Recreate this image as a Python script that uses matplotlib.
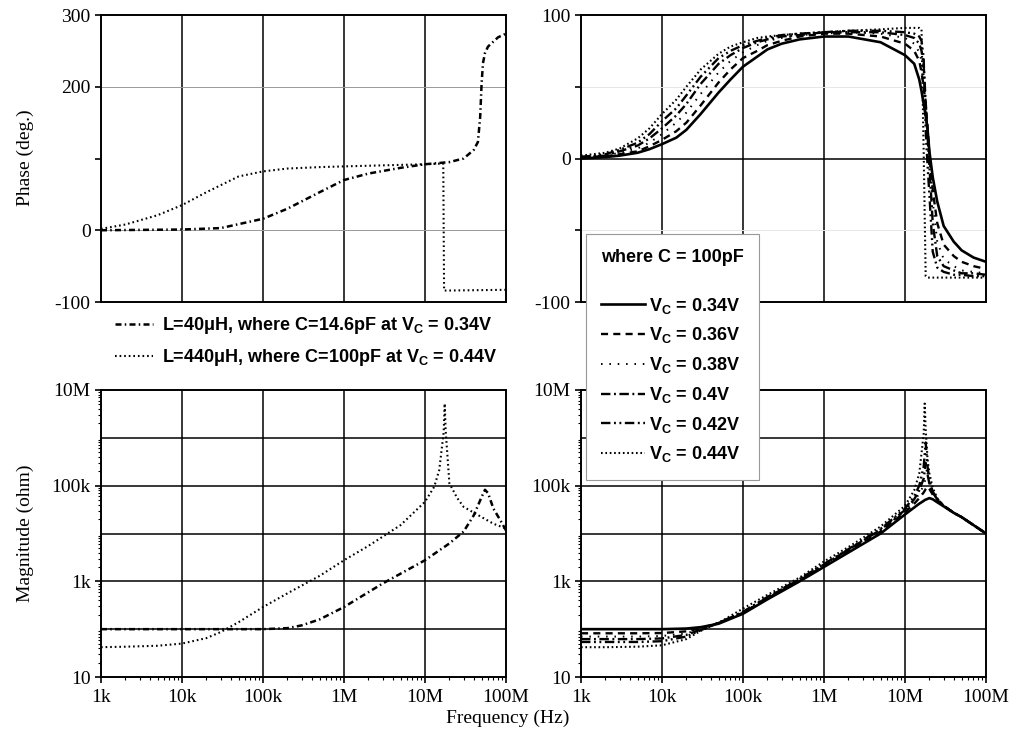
import numpy as np
import matplotlib
matplotlib.use("Agg")
import matplotlib.pyplot as plt
from matplotlib.ticker import LogLocator, NullFormatter

plt.rcParams['font.family'] = ['Liberation Serif', 'DejaVu Serif']
plt.rcParams['mathtext.fontset'] = 'custom'
plt.rcParams['mathtext.rm'] = 'Liberation Sans:bold'
plt.rcParams['mathtext.bf'] = 'Liberation Sans:bold'
plt.rcParams['mathtext.it'] = 'Liberation Sans:bold'

# ---- left column: two inductors ----
f_ph40 = [1e3, 3e3, 1e4, 3e4, 1e5, 2e5, 5e5, 1e6, 2e6, 5e6, 1e7, 2e7, 3e7, 4e7,
          4.5e7, 4.8e7, 5e7, 5.2e7, 5.5e7, 6e7, 7e7, 8e7, 1e8]
ph40 = [0, 0.5, 1, 3, 16, 30, 53, 70, 79, 87, 92, 95, 100, 112,
        123, 158, 205, 233, 247, 256, 263, 269, 274]
f_ph440 = [1e3, 2e3, 5e3, 1e4, 2e4, 5e4, 1e5, 2e5, 5e5, 1e6, 1e7, 1.68e7, 1.72e7, 2e7, 1e8]
ph440 = [2, 8, 21, 35, 53, 75, 82, 86, 88, 89, 92, 93, -84, -84, -83]

f_mag40 = [1e3, 1e4, 1e5, 2e5, 3e5, 5e5, 1e6, 3e6, 1e7, 2e7, 3e7, 4e7, 5e7,
           5.5e7, 6e7, 7e7, 8.5e7, 1e8]
mag40 = [100, 100, 100, 105, 120, 160, 290, 900, 2760, 6200, 11000, 24000, 58000,
         82000, 70000, 33000, 19000, 11600]
f_mag440 = [1e3, 2e3, 5e3, 1e4, 2e4, 3e4, 5e4, 1e5, 2e5, 5e5, 1e6, 2e6, 5e6, 1e7,
            1.3e7, 1.5e7, 1.7e7, 1.75e7, 1.8e7, 2e7, 2.5e7, 3e7, 5e7, 7e7, 1e8]
mag440 = [42, 43, 45, 50, 65, 87, 140, 290, 560, 1300, 2760, 5500, 15000, 46000,
          95000, 213000, 1.3e6, 5.2e6, 1.4e6, 112000, 55000, 36000, 22000, 16000, 12700]

# ---- right column: C = 100 pF at several Vc ----
f_r = [1e3, 2e3, 3e3, 5e3, 7e3, 1e4, 1.5e4, 2e4, 3e4, 5e4, 7e4, 1e5, 1.5e5, 2e5, 3e5,
       5e5, 1e6, 2e6, 5e6, 1e7, 1.3e7, 1.5e7, 1.6e7, 1.7e7, 1.8e7, 1.9e7, 2e7, 2.2e7,
       2.5e7, 3e7, 4e7, 5e7, 7e7, 1e8]
vc_labels = ['0.34V', '0.36V', '0.38V', '0.4V', '0.42V', '0.44V']
ph_034 = [0, 1, 2, 4, 6.5, 10, 14.5, 20, 31, 46, 55, 64, 71, 76, 80, 83, 85, 85, 81, 72,
          66, 55, 47, 38, 30, 20, 5, -13, -30, -47, -58, -64, -69, -72]
ph_036 = [1, 1.5, 3, 5, 8.5, 13, 19, 25, 37, 53, 62, 70, 75, 79, 82, 85, 87, 87, 85, 80,
          75, 68, 60, 50, 38, 22, 3, -22, -45, -60, -68, -72, -75, -77]
ph_038 = [1, 2, 4, 7, 11, 17, 25, 32, 45, 60, 68, 74, 79, 82, 84, 86, 87, 88, 87, 84,
          80, 74, 68, 58, 40, 20, 0, -30, -58, -70, -75, -78, -79, -80]
ph_040 = [1, 2, 5, 9, 14, 21, 30, 38, 52, 66, 72, 77, 81, 83, 85, 86, 88, 88, 88, 86,
          84, 80, 75, 65, 40, 15, -5, -45, -68, -75, -78, -80, -80, -81]
ph_042 = [1, 3, 6, 11, 17, 26, 35, 44, 57, 70, 75, 79, 82, 84, 86, 87, 88, 89, 89, 88,
          87, 85, 82, 70, 20, -5, -25, -65, -76, -79, -81, -81, -82, -82]
ph_044 = [2, 4, 7, 14, 21, 31, 41, 50, 62, 73, 78, 81, 84, 85, 86, 87, 88, 89, 90, 91,
          91, 91, 90, 5, -82, -83, -83, -83, -83, -83, -83, -83, -83, -83]

f_rm = [1e3, 2e3, 5e3, 1e4, 2e4, 3e4, 5e4, 1e5, 2e5, 5e5, 1e6, 2e6, 5e6, 1e7,
        1.3e7, 1.5e7, 1.7e7, 1.75e7, 1.8e7, 1.9e7, 2e7, 2.2e7, 2.5e7, 3e7, 4e7, 5e7, 7e7, 1e8]
mag_034 = [100, 100, 100, 100, 103, 110, 130, 210, 420, 1000, 2000, 4000, 10e3, 25e3,
           35e3, 42e3, 48e3, 50e3, 51e3, 53e3, 55e3, 52e3, 45e3, 37e3, 27e3, 22e3, 15e3, 10e3]
mag_036 = [82, 82, 82, 83, 90, 105, 135, 220, 440, 1050, 2100, 4300, 11e3, 28e3,
           42e3, 55e3, 72e3, 78e3, 85e3, 95e3, 85e3, 65e3, 50e3, 38e3, 27e3, 22e3, 15e3, 10e3]
mag_038 = [70, 70, 70, 72, 82, 100, 135, 225, 450, 1080, 2200, 4500, 11.5e3, 30e3,
           48e3, 68e3, 100e3, 120e3, 140e3, 180e3, 110e3, 70e3, 52e3, 38e3, 27e3, 22e3, 15e3, 10e3]
mag_040 = [62, 62, 62, 64, 76, 98, 135, 228, 460, 1100, 2250, 4600, 12e3, 31e3,
           52e3, 80e3, 140e3, 200e3, 300e3, 170e3, 110e3, 72e3, 52e3, 38e3, 27e3, 22e3, 15e3, 10e3]
mag_042 = [54, 54, 54, 56, 70, 95, 135, 230, 470, 1120, 2300, 4700, 12.5e3, 33e3,
           60e3, 100e3, 250e3, 450e3, 800e3, 250e3, 130e3, 75e3, 53e3, 38e3, 27e3, 22e3, 15e3, 10e3]
mag_044 = [42, 42, 43, 46, 62, 92, 135, 270, 520, 1200, 2600, 5200, 14e3, 38e3,
           80e3, 180e3, 1.2e6, 5.2e6, 1.5e6, 350e3, 180e3, 90e3, 55e3, 38e3, 27e3, 22e3, 15e3, 10e3]

x_ticks = [1e3, 1e4, 1e5, 1e6, 1e7, 1e8]
x_ticklabels = ['1k', '10k', '100k', '1M', '10M', '100M']
mag_ticks = [10, 1e3, 1e5, 1e7]
mag_ticklabels = ['10', '1k', '100k', '10M']

styles = [
    dict(ls='-', lw=1.9),
    dict(ls=(0, (3.0, 2.2)), lw=1.7),
    dict(ls=(0, (0.8, 3.5)), lw=1.4),
    dict(ls=(0, (4.0, 1.5, 0.8, 1.5)), lw=1.7),
    dict(ls=(0, (4.0, 1.5, 0.8, 1.5, 0.8, 1.5)), lw=1.7),
    dict(ls=(0, (0.8, 1.3)), lw=1.5),
]
dashdot40 = dict(ls=(0, (2.4, 1.3, 0.6, 1.3)), lw=1.8)
dot440 = dict(ls=(0, (0.8, 1.4)), lw=1.5)

fig = plt.figure(figsize=(10.15, 7.4), dpi=100)
W, H = 1015.0, 740.0
def add_ax(x0, y0, x1, y1):
    return fig.add_axes([x0 / W, 1 - y1 / H, (x1 - x0) / W, (y1 - y0) / H])

ax_tl = add_ax(101, 15, 506, 302)
ax_tr = add_ax(581, 15, 986, 302)
ax_bl = add_ax(101, 390, 506, 677)
ax_br = add_ax(581, 390, 986, 677)

for ax in (ax_tl, ax_tr, ax_bl, ax_br):
    ax.set_xscale('log')
    ax.set_xlim(1e3, 1e8)
    ax.set_xticks(x_ticks)
    ax.xaxis.set_minor_formatter(NullFormatter())
    for s in ax.spines.values():
        s.set_linewidth(1.4)
    for x in x_ticks[1:-1]:
        ax.axvline(x, color='black', lw=1.1, zorder=1)
    ax.tick_params(axis='both', which='major', labelsize=14, length=4, width=1.2)

for ax in (ax_tl, ax_tr):
    ax.set_xticklabels([])
    ax.xaxis.set_minor_locator(plt.NullLocator())
    ax.tick_params(axis='x', length=0)

for ax in (ax_bl, ax_br):
    ax.set_xticklabels(x_ticklabels)
    ax.xaxis.set_minor_locator(LogLocator(base=10, subs=np.arange(2, 10)))
    ax.tick_params(axis='x', which='minor', length=2.5, width=0.8)
    ax.set_yscale('log')
    ax.set_ylim(10, 1e7)
    ax.set_yticks(mag_ticks)
    ax.set_yticklabels(mag_ticklabels)
    ax.yaxis.set_minor_locator(LogLocator(base=10, subs=np.arange(2, 10)))
    ax.yaxis.set_minor_formatter(NullFormatter())
    ax.tick_params(axis='y', which='minor', length=2.5, width=0.8)
    for y in [100, 1e3, 1e4, 1e5, 1e6]:
        ax.axhline(y, color='black', lw=1.1, zorder=1)
    ax.tick_params(axis='x', pad=5)

# top-left phase
ax_tl.set_ylim(-100, 300)
ax_tl.set_yticks([-100, 0, 100, 200, 300])
ax_tl.set_yticklabels(['-100', '0', '', '200', '300'])
for y in [0, 200]:
    ax_tl.axhline(y, color='#999999', lw=0.7, zorder=1)

# top-right phase
ax_tr.set_ylim(-100, 100)
ax_tr.set_yticks([-100, -50, 0, 50, 100])
ax_tr.set_yticklabels(['-100', '', '0', '', '100'])
ax_tr.axhline(0, color='black', lw=1.1, zorder=1)
for y in [-50, 50]:
    ax_tr.axhline(y, color='#e6e6e6', lw=0.7, zorder=1)

ax_tl.plot(f_ph40, ph40, color='black', zorder=3, **dashdot40,
           label=r'L=40μH, where C=14.6pF at V$_C$ = 0.34V')
ax_tl.plot(f_ph440, ph440, color='black', zorder=3, **dot440,
           label=r'L=440μH, where C=100pF at V$_C$ = 0.44V')
ax_bl.plot(f_mag40, mag40, color='black', zorder=3, **dashdot40)
ax_bl.plot(f_mag440, mag440, color='black', zorder=3, **dot440)

phases = [ph_034, ph_036, ph_038, ph_040, ph_042, ph_044]
mags = [mag_034, mag_036, mag_038, mag_040, mag_042, mag_044]
for lab, ph, mg, st in zip(vc_labels, phases, mags, styles):
    ax_tr.plot(f_r, ph, color='black', zorder=3, label=r'V$_C$ = ' + lab, **st)
    ax_br.plot(f_rm, mg, color='black', zorder=3, **st)

fig.text(25 / W, 1 - 158 / H, 'Phase (deg.)', rotation=90, ha='center', va='center', fontsize=14)
fig.text(25 / W, 1 - 533 / H, 'Magnitude (ohm)', rotation=90, ha='center', va='center', fontsize=14)
fig.text(508 / W, 1 - 718 / H, 'Frequency (Hz)', ha='center', va='center', fontsize=14)

legfont = dict(family='Liberation Sans', weight='bold', size=13)
h, l = ax_tl.get_legend_handles_labels()
fig.legend(h, l, loc='upper left', bbox_to_anchor=(115 / W, 1 - 315 / H),
           frameon=False, prop=legfont, handlelength=2.1, handletextpad=0.5,
           labelspacing=0.62, borderpad=0, borderaxespad=0)

h, l = ax_tr.get_legend_handles_labels()
leg = fig.legend(h, l, loc='upper left', bbox_to_anchor=(586 / W, 1 - 234 / H),
                 prop=legfont, title='where C = 100pF\n',
                 title_fontproperties=legfont, alignment='left',
                 handlelength=2.4, handletextpad=0.25, labelspacing=0.54,
                 borderpad=0.85, borderaxespad=0, fancybox=False,
                 edgecolor='#999999', framealpha=1)
leg.get_frame().set_linewidth(0.8)

fig.savefig('out.png', dpi=100)
